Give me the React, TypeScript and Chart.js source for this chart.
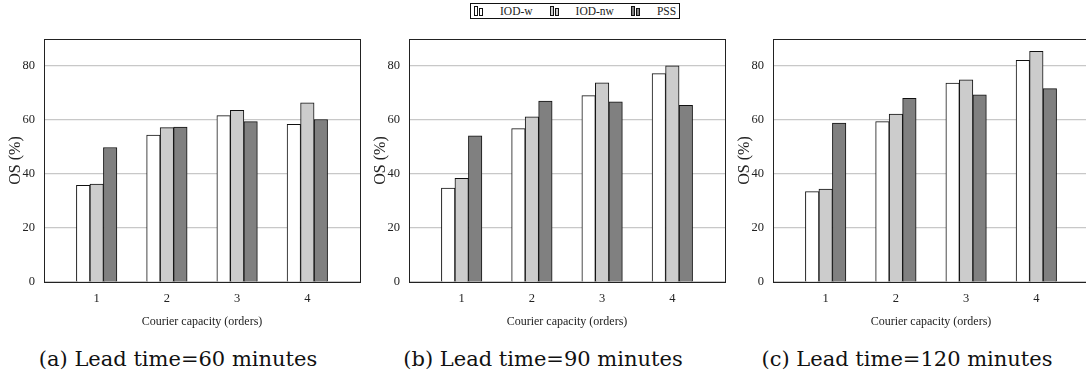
import React, { useEffect, useRef } from 'react';
import { Chart, registerables } from 'chart.js';
Chart.register(...registerables);

const categories = [1, 2, 3, 4];
const seriesNames = ['IOD-w', 'IOD-nw', 'PSS'];
const seriesColors = ['#ffffff', '#cccccc', '#808080'];
const yTicks = [0, 20, 40, 60, 80];

const lead60_iodw = [35.8, 54.4, 61.6, 58.4];
const lead60_iodnw = [36.3, 57.2, 63.6, 66.4];
const lead60_pss = [49.8, 57.4, 59.4, 60.2];

const lead90_iodw = [34.8, 56.8, 69.0, 77.2];
const lead90_iodnw = [38.4, 61.2, 73.8, 80.1];
const lead90_pss = [54.1, 67.0, 66.7, 65.4];

const lead120_iodw = [33.5, 59.4, 73.7, 82.1];
const lead120_iodnw = [34.4, 62.2, 74.9, 85.4];
const lead120_pss = [58.9, 68.0, 69.3, 71.6];

const captions = ['(a) Lead time=60 minutes', '(b) Lead time=90 minutes', '(c) Lead time=120 minutes'];
const xTitle = 'Courier capacity (orders)';
const yTitle = 'OS (%)';

const FONT = '"Liberation Serif", "Times New Roman", serif';
const PLOT_W = 316;
const PLOT_TOP = 39;
const PLOT_BOTTOM = 282;
const Y_AXIS_W = 44;
const CANVAS_H = 340;
const CANVAS_W = Y_AXIS_W + PLOT_W + 4;

const framePlugin = {
  id: 'frame',
  afterDraw(chart: any) {
    const { ctx, chartArea } = chart;
    ctx.save();
    ctx.strokeStyle = '#222222';
    ctx.lineWidth = 1;
    ctx.strokeRect(
      Math.round(chartArea.left) + 0.5,
      Math.round(chartArea.top) + 0.5,
      Math.round(chartArea.right - chartArea.left),
      Math.round(chartArea.bottom - chartArea.top)
    );
    ctx.restore();
  },
};

function Panel({ plotLeft, series, caption }: { plotLeft: number; series: number[][]; caption: string }) {
  const ref = useRef<HTMLCanvasElement | null>(null);
  useEffect(() => {
    if (!ref.current) return;
    const chart = new Chart(ref.current, {
      type: 'bar',
      data: {
        datasets: series.map((vals, i) => ({
          label: seriesNames[i],
          data: categories.map((c, j) => ({ x: c, y: vals[j] })),
          backgroundColor: seriesColors[i],
          borderColor: '#111111',
          borderWidth: 1,
          barThickness: 13.5,
        })),
      },
      options: {
        responsive: false,
        animation: false,
        devicePixelRatio: 1,
        layout: { padding: { top: PLOT_TOP, left: 0, right: 4, bottom: 0 } },
        plugins: { legend: { display: false }, tooltip: { enabled: false } },
        scales: {
          x: {
            type: 'linear',
            offset: false,
            min: 0.25,
            max: 4.75,
            afterBuildTicks: (s: any) => {
              s.ticks = categories.map((v) => ({ value: v }));
            },
            afterFit: (s: any) => {
              s.height = CANVAS_H - PLOT_BOTTOM;
            },
            grid: { display: false, drawTicks: false },
            border: { display: false },
            ticks: {
              padding: 9,
              color: '#222',
              font: { family: FONT, size: 12.5 },
              callback: (v: any) => String(v),
              maxRotation: 0,
            },
            title: {
              display: true,
              text: xTitle,
              color: '#222',
              font: { family: FONT, size: 12 },
              padding: { top: 0, bottom: 11 },
            },
          },
          y: {
            min: 0,
            max: 90,
            afterBuildTicks: (s: any) => {
              s.ticks = yTicks.map((v) => ({ value: v }));
            },
            afterFit: (s: any) => {
              s.width = Y_AXIS_W;
            },
            grid: { color: '#c8c8c8', lineWidth: 1.2, drawTicks: false },
            border: { display: false },
            ticks: {
              padding: 9,
              color: '#222',
              font: { family: FONT, size: 12.5 },
            },
            title: {
              display: true,
              text: yTitle,
              color: '#222',
              font: { family: FONT, size: 16 },
              padding: { top: 6, bottom: 0 },
            },
          },
        },
      },
      plugins: [framePlugin],
    } as any);
    return () => chart.destroy();
  }, []);
  return (
    <>
      <div style={{ position: 'absolute', left: plotLeft - Y_AXIS_W, top: 0, width: CANVAS_W, height: CANVAS_H }}>
        <canvas ref={ref} width={CANVAS_W} height={CANVAS_H} style={{ width: CANVAS_W, height: CANVAS_H, display: 'block' }} />
      </div>
      <div
        style={{
          position: 'absolute',
          left: plotLeft - 24 + PLOT_W / 2 - 200,
          width: 400,
          top: 346,
          textAlign: 'center',
          fontFamily: '"DejaVu Serif", serif',
          fontSize: 21,
          lineHeight: '26px',
          color: '#111',
          whiteSpace: 'nowrap',
        }}
      >
        {caption}
      </div>
    </>
  );
}

function Legend() {
  return (
    <div
      style={{
        position: 'absolute',
        left: 470,
        top: 3,
        width: 205,
        height: 14,
        border: '1px solid #111',
        display: 'flex',
        alignItems: 'center',
        paddingLeft: 3,
        boxSizing: 'content-box',
        fontFamily: FONT,
        fontSize: 11.5,
        color: '#222',
        background: '#fff',
      }}
    >
      {seriesNames.map((name, i) => (
        <React.Fragment key={name}>
          <div style={{ display: 'flex', alignItems: 'flex-end', gap: 1, height: 10, marginRight: 17 }}>
            <div style={{ width: 2, height: 8, border: '1px solid #111', background: seriesColors[i] }} />
            <div style={{ width: 2, height: 6, border: '1px solid #111', background: seriesColors[i] }} />
          </div>
          <span style={{ marginRight: i < seriesNames.length - 1 ? 17 : 0 }}>{name}</span>
        </React.Fragment>
      ))}
    </div>
  );
}

export default function App() {
  const panels = [
    { plotLeft: 44, series: [lead60_iodw, lead60_iodnw, lead60_pss] },
    { plotLeft: 409, series: [lead90_iodw, lead90_iodnw, lead90_pss] },
    { plotLeft: 773, series: [lead120_iodw, lead120_iodnw, lead120_pss] },
  ];
  return (
    <div style={{ position: 'fixed', left: 0, top: 0, width: 1086, height: 378, background: '#fff', overflow: 'hidden' }}>
      {panels.map((p, i) => (
        <Panel key={i} plotLeft={p.plotLeft} series={p.series} caption={captions[i]} />
      ))}
      <Legend />
    </div>
  );
}
